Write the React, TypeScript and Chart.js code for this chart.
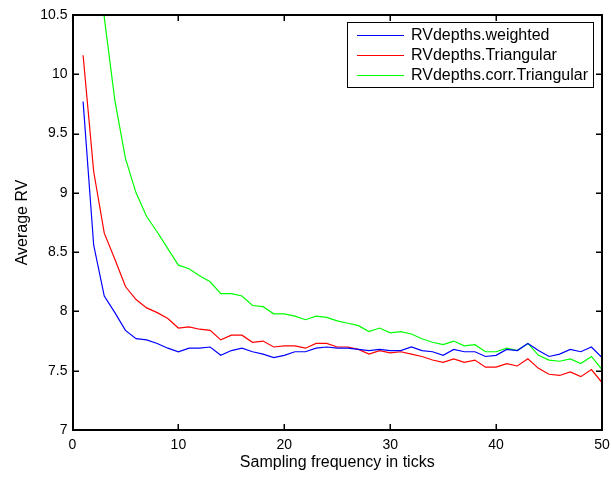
import React, { useEffect, useRef } from "react";
import { Chart, registerables } from "chart.js";

Chart.register(...registerables);

const samplingFreq = [
  1, 2, 3, 4, 5, 6, 7, 8, 9, 10, 11, 12, 13, 14, 15, 16, 17, 18, 19, 20, 21, 22, 23, 24, 25,
  26, 27, 28, 29, 30, 31, 32, 33, 34, 35, 36, 37, 38, 39, 40, 41, 42, 43, 44, 45, 46, 47, 48, 49, 50,
];

const weighted = [
  9.77, 8.56, 8.13, 7.99, 7.84, 7.77, 7.76, 7.73, 7.69, 7.66, 7.69, 7.69, 7.7, 7.63, 7.67, 7.69, 7.66,
  7.64, 7.61, 7.63, 7.66, 7.66, 7.69, 7.7, 7.69, 7.69, 7.68, 7.67, 7.68, 7.67, 7.67, 7.7, 7.67, 7.66,
  7.63, 7.68, 7.66, 7.66, 7.62, 7.63, 7.68, 7.67, 7.73, 7.67, 7.62, 7.64, 7.68, 7.66, 7.7, 7.61,
];

const triangular = [
  10.16, 9.18, 8.66, 8.44, 8.21, 8.1, 8.03, 7.99, 7.94, 7.86, 7.87, 7.85, 7.84, 7.76, 7.8, 7.8, 7.74,
  7.75, 7.7, 7.71, 7.71, 7.69, 7.73, 7.73, 7.7, 7.7, 7.68, 7.64, 7.67, 7.65, 7.66, 7.64, 7.62, 7.59,
  7.57, 7.6, 7.57, 7.59, 7.53, 7.53, 7.56, 7.54, 7.6, 7.52, 7.47, 7.46, 7.49, 7.45, 7.51, 7.4,
];

const corrTriangular = [
  12.8, 11.6, 10.48, 9.78, 9.29, 9.0, 8.8, 8.67, 8.53, 8.39, 8.36, 8.3, 8.25, 8.15, 8.15, 8.13, 8.05,
  8.04, 7.98, 7.98, 7.96, 7.93, 7.96, 7.95, 7.92, 7.9, 7.88, 7.83, 7.86, 7.82, 7.83, 7.81, 7.77, 7.74,
  7.72, 7.75, 7.71, 7.72, 7.66, 7.66, 7.69, 7.67, 7.73, 7.63, 7.59, 7.58, 7.6, 7.56, 7.62, 7.51,
];

const seriesLabels = ["RVdepths.weighted", "RVdepths.Triangular", "RVdepths.corr.Triangular"];
const seriesColors = ["#0000ff", "#ff0000", "#00ff00"];
const xTitle = "Sampling frequency in ticks";
const yTitle = "Average RV";

const FONT = '"Liberation Sans", Arial, Helvetica, sans-serif';

function drawFrame(chart: any) {
  const ctx = chart.ctx;
  const ca = chart.chartArea;
  const left = Math.round(ca.left);
  const right = Math.round(ca.right);
  const top = Math.round(ca.top);
  const bottom = Math.round(ca.bottom);
  const xs = chart.scales.x;
  const ys = chart.scales.y;
  const tl = 6;
  ctx.save();
  ctx.fillStyle = "#000000";
  for (const t of xs.ticks) {
    const px = Math.round(xs.getPixelForValue(t.value));
    ctx.fillRect(px - 0.5, bottom - tl, 1.5, tl);
    ctx.fillRect(px - 0.5, top, 1.5, tl);
  }
  for (const t of ys.ticks) {
    const py = Math.round(ys.getPixelForValue(t.value));
    ctx.fillRect(left, py - 0.5, tl, 1.5);
    ctx.fillRect(right - tl, py - 0.5, tl, 1.5);
  }
  // box edges, about 2px thick
  ctx.fillRect(left - 1, top - 1, right - left + 2, 2);
  ctx.fillRect(left - 1, bottom - 1, right - left + 2, 2);
  ctx.fillRect(left - 1, top - 1, 2, bottom - top + 2);
  ctx.fillRect(right - 1, top - 1, 2, bottom - top + 2);
  ctx.restore();
}

function drawLegend(chart: any) {
  const ctx = chart.ctx;
  const bx = 347;
  const by = 22;
  const bw = 246;
  const bh = 65;
  ctx.save();
  ctx.fillStyle = "#ffffff";
  ctx.fillRect(bx, by, bw, bh);
  ctx.strokeStyle = "#000000";
  ctx.lineWidth = 1;
  ctx.strokeRect(bx + 0.5, by + 0.5, bw, bh);
  ctx.font = `16px ${FONT}`;
  ctx.textBaseline = "middle";
  ctx.textAlign = "left";
  chart.data.datasets.forEach((ds: any, i: number) => {
    const ry = by + 13.5 + i * 20;
    ctx.strokeStyle = ds.borderColor;
    ctx.lineWidth = 1;
    ctx.beginPath();
    ctx.moveTo(357, ry);
    ctx.lineTo(404, ry);
    ctx.stroke();
    ctx.fillStyle = "#000000";
    ctx.fillText(ds.label, 411, ry + 0.5);
  });
  ctx.restore();
}

const overlayPlugin = {
  id: "matlabOverlay",
  afterDraw(chart: any) {
    drawFrame(chart);
    drawLegend(chart);
  },
};

export default function App() {
  const canvasRef = useRef<HTMLCanvasElement | null>(null);

  useEffect(() => {
    if (!canvasRef.current) return;
    const allSeries = [weighted, triangular, corrTriangular];
    const chart = new Chart(canvasRef.current, {
      type: "line",
      data: {
        datasets: allSeries.map((vals, si) => ({
          label: seriesLabels[si],
          data: samplingFreq.map((x, i) => ({ x, y: vals[i] })),
          borderColor: seriesColors[si],
          backgroundColor: seriesColors[si],
          borderWidth: 1.2,
          pointRadius: 0,
          tension: 0,
          fill: false,
        })),
      },
      options: {
        responsive: false,
        animation: false,
        devicePixelRatio: 1,
        layout: { padding: { top: 15, right: 9, left: 0, bottom: 0 } },
        plugins: {
          legend: { display: false },
          tooltip: { enabled: false },
        },
        scales: {
          x: {
            type: "linear",
            min: 0,
            max: 50,
            ticks: {
              stepSize: 10,
              color: "#000",
              font: { family: FONT, size: 14 },
              padding: 7,
              maxRotation: 0,
              callback: (v: any) => String(v),
            },
            grid: { display: false, drawTicks: false },
            border: { display: false },
            title: {
              display: true,
              text: xTitle,
              color: "#000",
              font: { family: FONT, size: 16 },
              padding: { top: 0, bottom: 6.4 },
            },
            afterFit: (s: any) => {
              s.height = 49;
              s.paddingLeft = 0;
              s.paddingRight = 0;
            },
          },
          y: {
            type: "linear",
            min: 7,
            max: 10.5,
            ticks: {
              stepSize: 0.5,
              color: "#000",
              font: { family: FONT, size: 14 },
              padding: 5,
              callback: (v: any) => String(v),
            },
            grid: { display: false, drawTicks: false },
            border: { display: false },
            title: {
              display: true,
              text: yTitle,
              color: "#000",
              font: { family: FONT, size: 16 },
              padding: { top: 13.2, bottom: 0 },
            },
            afterFit: (s: any) => {
              s.width = 72.5;
              s.paddingTop = 0;
              s.paddingBottom = 0;
            },
          },
        },
      },
      plugins: [overlayPlugin],
    } as any);
    return () => chart.destroy();
  }, []);

  return (
    <div style={{ position: "absolute", left: 0, top: 0, width: 611, height: 479, background: "#fff" }}>
      <canvas ref={canvasRef} width={611} height={479} style={{ display: "block" }} />
    </div>
  );
}
